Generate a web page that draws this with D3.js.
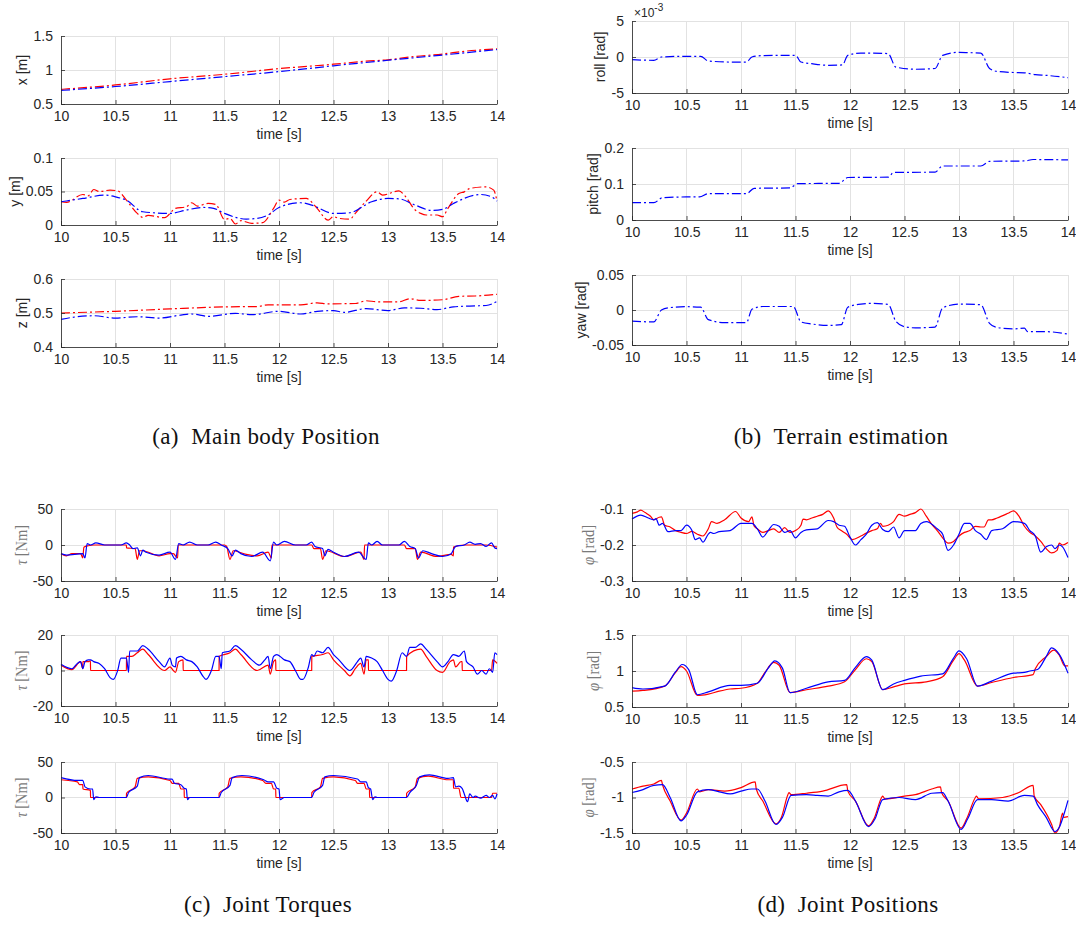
<!DOCTYPE html>
<html><head><meta charset="utf-8">
<script src="https://cdn.jsdelivr.net/npm/d3@7"></script>
<style>body{margin:0;background:#fff}</style>
</head><body><svg id="c" width="1076" height="938"></svg>
<script>
// ---------- DATA ----------
const timeTicks = [10,10.5,11,11.5,12,12.5,13,13.5,14];

// (a) main body position: red = reference, blue = actual
const posXRed = [[10,0.715],[10.5,0.78],[11,0.87],[11.5,0.937],[12,1.02],[12.5,1.085],[12.8,1.13],[13,1.15],[13.25,1.2],[13.5,1.235],[13.7,1.275],[14,1.31]];
const posXBlue = [[10,0.70],[10.5,0.757],[11,0.83],[11.5,0.903],[12,0.976],[12.5,1.062],[13,1.143],[13.5,1.22],[14,1.3]];

const posYRed = [[10,0.0347],[10.05,0.0337],[10.2,0.0455],[10.25,0.0436],[10.3,0.053],[10.35,0.05],[10.45,0.052],[10.52,0.051],[10.6,0.037],[10.7,0.0173],[10.75,0.0114],[10.8,0.0144],[10.95,0.0109],[11.05,0.0248],[11.15,0.0272],[11.2,0.0332],[11.25,0.0282],[11.35,0.0322],[11.42,0.0307],[11.5,0.0084],[11.55,0.0099],[11.6,0.0015],[11.65,0.0064],[11.75,0.0025],[11.85,0.0035],[11.95,0.0248],[12,0.0371],[12.05,0.0342],[12.1,0.0381],[12.25,0.0396],[12.35,0.0248],[12.45,0.0074],[12.5,0.0124],[12.55,0.0099],[12.65,0.0089],[12.7,0.0173],[12.8,0.0356],[12.9,0.0495],[12.95,0.0446],[13.1,0.051],[13.15,0.0446],[13.25,0.0223],[13.3,0.0173],[13.35,0.0149],[13.45,0.0149],[13.5,0.0124],[13.55,0.0248],[13.65,0.047],[13.7,0.0495],[13.75,0.0545],[13.9,0.0569],[13.97,0.052],[14,0.0356]];
const posYBlue = [[10,0.0347],[10.2,0.0396],[10.4,0.0446],[10.5,0.0421],[10.6,0.037],[10.75,0.0198],[11,0.0173],[11.15,0.0223],[11.3,0.0262],[11.4,0.0248],[11.5,0.0173],[11.7,0.0089],[11.8,0.0099],[11.9,0.0149],[12,0.0262],[12.2,0.0332],[12.3,0.0297],[12.5,0.0173],[12.65,0.0183],[12.85,0.0347],[13,0.0396],[13.1,0.0391],[13.25,0.0297],[13.4,0.0218],[13.5,0.0233],[13.6,0.0322],[13.85,0.0455],[13.95,0.042],[14,0.0356]];

const posZRed = [[10,0.5],[10.5,0.505],[11,0.512],[11.5,0.518],[11.8,0.519],[11.9,0.524],[12.2,0.524],[12.35,0.53],[12.45,0.527],[12.7,0.528],[12.8,0.536],[12.9,0.533],[13.1,0.533],[13.2,0.542],[13.3,0.537],[13.5,0.539],[13.65,0.549],[13.8,0.55],[14,0.555]];
const posZBlue = [[10,0.481],[10.1,0.487],[10.3,0.492],[10.5,0.485],[10.7,0.489],[10.9,0.485],[11.1,0.494],[11.2,0.497],[11.35,0.49],[11.6,0.499],[11.75,0.495],[12,0.505],[12.2,0.497],[12.35,0.505],[12.5,0.507],[12.6,0.502],[12.8,0.513],[13,0.507],[13.15,0.515],[13.3,0.514],[13.45,0.51],[13.6,0.518],[13.8,0.521],[13.9,0.522],[14,0.534]];

// (b) terrain estimation (roll in units of 1e-3 rad)
const rollE3 = [[10,-0.37],[10.2,-0.46],[10.27,0],[10.5,0.1],[10.63,0.1],[10.7,-0.55],[10.9,-0.7],[11.05,-0.7],[11.1,0],[11.2,0.2],[11.5,0.23],[11.55,-0.7],[11.65,-0.93],[11.8,-1.15],[11.93,-1.1],[11.98,0.23],[12.1,0.55],[12.2,0.55],[12.35,0.46],[12.42,-1.4],[12.6,-1.7],[12.78,-1.6],[12.85,0.23],[13,0.65],[13.1,0.6],[13.2,0.55],[13.28,-1.6],[13.35,-2.0],[13.5,-2.15],[13.6,-2.2],[13.7,-2.45],[13.8,-2.55],[14,-2.87]];
const pitch = [[10,0.048],[10.2,0.048],[10.28,0.062],[10.5,0.064],[10.62,0.064],[10.7,0.073],[11.05,0.073],[11.12,0.088],[11.45,0.089],[11.52,0.101],[11.9,0.102],[11.98,0.118],[12.35,0.119],[12.4,0.132],[12.78,0.133],[12.85,0.15],[13.2,0.15],[13.28,0.163],[13.6,0.164],[13.68,0.168],[14,0.167]];
const yaw = [[10,-0.016],[10.2,-0.017],[10.27,0],[10.35,0.0035],[10.5,0.0047],[10.63,0.004],[10.7,-0.0137],[10.85,-0.018],[11.05,-0.018],[11.1,0.001],[11.2,0.005],[11.48,0.005],[11.55,-0.017],[11.65,-0.02],[11.8,-0.022],[11.92,-0.021],[11.98,0.004],[12.1,0.0085],[12.2,0.0094],[12.35,0.008],[12.42,-0.016],[12.5,-0.024],[12.6,-0.0255],[12.78,-0.0245],[12.85,0.003],[13,0.0085],[13.2,0.0075],[13.28,-0.019],[13.35,-0.025],[13.5,-0.027],[13.6,-0.026],[13.63,-0.031],[13.8,-0.031],[14,-0.0345]];

// (c) joint torques
const tau1Red = [[10,-12],[10.05,-15],[10.1,-12],[10.18,-12],[10.2,-18],[10.21,-3],[10.25,-1],[10.3,0],[10.6,0],[10.601,-4],[10.68,-5],[10.7,-20],[10.72,-8],[10.75,-8],[10.9,-15],[11,-12],[11.03,-12],[11.07,-18],[11.075,0],[11.5,0],[11.52,-2],[11.55,-20],[11.58,-8],[11.7,-13],[11.8,-15],[11.9,-10],[11.93,-18],[11.935,0],[12.3,0],[12.32,-5],[12.38,-5],[12.4,-20],[12.43,-8],[12.6,-16],[12.75,-10],[12.78,-20],[12.785,0],[13.15,0],[13.17,-5],[13.25,-5],[13.27,-20],[13.3,-10],[13.45,-16],[13.58,-13],[13.6,-15],[13.601,-3],[13.7,0],[13.9,0],[14,-3]];
const tau1Blue = [[10,-12],[10.05,-14],[10.2,-12],[10.22,-18],[10.24,2],[10.27,0],[10.32,3],[10.4,0],[10.55,0],[10.6,3],[10.63,0],[10.66,-5],[10.7,-4],[10.73,-15],[10.75,-7],[10.78,-10],[10.9,-14],[11,-10],[11.05,-20],[11.08,2],[11.12,0],[11.18,4],[11.25,0],[11.35,0],[11.42,4],[11.47,0],[11.53,-5],[11.57,-15],[11.6,-7],[11.65,-12],[11.75,-16],[11.85,-10],[11.92,-22],[11.95,4],[11.98,0],[12.05,5],[12.15,0],[12.25,0],[12.3,4],[12.33,-2],[12.4,-5],[12.42,-15],[12.45,-6],[12.5,-10],[12.6,-16],[12.73,-10],[12.8,-20],[12.82,3],[12.85,0],[12.9,5],[12.95,0],[13.1,0],[13.15,5],[13.2,-2],[13.25,-5],[13.28,-18],[13.32,-8],[13.4,-12],[13.5,-16],[13.58,-12],[13.62,-2],[13.7,0],[13.75,4],[13.8,1],[13.85,2],[13.9,-2],[13.95,3],[13.98,-4],[14,-5]];

const tau2Red = [[10,3],[10.1,0.5],[10.18,5],[10.2,1],[10.201,5],[10.25,5],[10.27,5.5],[10.271,0],[10.6,0],[10.601,8],[10.65,8],[10.7,10],[10.75,12],[10.8,9],[10.95,0],[11,2],[11.03,0],[11.05,-1],[11.08,5],[11.12,6],[11.121,0],[11.45,0],[11.451,8],[11.55,10],[11.6,12],[11.65,9],[11.8,0],[11.9,3],[11.92,-2],[11.95,5],[11.97,6],[11.971,0],[12.3,0],[12.301,8],[12.4,9],[12.45,10],[12.5,6],[12.6,0],[12.65,-3],[12.7,1],[12.75,4],[12.78,-2],[12.8,6],[12.82,6],[12.821,0],[13.17,0],[13.171,8],[13.3,12],[13.35,8],[13.45,0],[13.5,-1],[13.57,5],[13.6,6],[13.62,2],[13.67,5],[13.68,5],[13.681,0],[13.95,0],[13.96,6],[14,4]];
const tau2Blue = [[10,3.5],[10.1,1],[10.15,4],[10.18,5],[10.2,1],[10.22,5],[10.25,6],[10.27,6],[10.3,5],[10.35,4],[10.4,1],[10.45,-4],[10.48,-5],[10.52,0],[10.55,7],[10.6,7],[10.62,-1],[10.63,11],[10.7,11],[10.75,14],[10.8,12],[10.9,5],[10.95,2],[11,7],[11.02,3],[11.05,2],[11.06,7],[11.1,8],[11.15,6],[11.2,5],[11.25,2],[11.3,-3],[11.33,-5],[11.38,0],[11.42,8],[11.45,8],[11.47,1],[11.48,10],[11.55,11],[11.6,14],[11.65,12],[11.75,6],[11.82,3],[11.87,6],[11.9,8],[11.92,1],[11.95,8],[11.98,9],[12.05,6],[12.1,5],[12.15,0],[12.2,-5],[12.22,-5],[12.27,2],[12.3,9],[12.32,8],[12.35,11],[12.4,10],[12.45,13],[12.5,9],[12.55,6],[12.65,0],[12.72,5],[12.75,7],[12.78,2],[12.8,8],[12.85,7],[12.9,5],[12.95,0],[13,-5],[13.03,-6],[13.08,0],[13.13,10],[13.17,8],[13.2,13],[13.25,13],[13.3,15],[13.35,12],[13.45,5],[13.5,2],[13.55,5],[13.6,9],[13.65,8],[13.7,11],[13.72,5],[13.78,2],[13.82,-2],[13.86,0],[13.9,-2],[13.93,1],[13.96,-1],[13.98,10],[14,9]];

const tau3Red = [[10,25],[10.15,22],[10.17,18],[10.2,18],[10.201,12],[10.27,10],[10.271,0],[10.6,0],[10.601,6],[10.68,15],[10.7,27],[10.8,29],[11,24],[11.02,20],[11.08,20],[11.1,12],[11.13,12],[11.131,0],[11.45,0],[11.451,6],[11.53,15],[11.55,27],[11.65,29],[11.85,24],[11.88,20],[11.93,20],[11.95,12],[11.97,12],[11.971,0],[12.3,0],[12.301,7],[12.38,15],[12.4,27],[12.5,29],[12.7,24],[12.72,20],[12.78,20],[12.8,12],[12.83,12],[12.831,0],[13.17,0],[13.171,6],[13.25,15],[13.27,27],[13.37,30],[13.55,25],[13.6,25],[13.601,13],[13.65,13],[13.67,0],[13.95,0],[13.96,6],[14,6]];
const tau3Blue = [[10,28],[10.15,24],[10.2,24],[10.22,15],[10.27,12],[10.29,12],[10.3,-3],[10.32,1],[10.35,0],[10.6,0],[10.62,7],[10.7,16],[10.72,28],[10.8,31],[11,26],[11.02,26],[11.04,20],[11.1,18],[11.13,13],[11.15,12],[11.16,-3],[11.18,0],[11.45,0],[11.47,7],[11.55,17],[11.57,28],[11.66,31],[11.86,25],[11.9,22],[11.95,22],[11.98,13],[12,12],[12.01,-3],[12.05,0],[12.3,0],[12.32,7],[12.4,17],[12.42,29],[12.5,31],[12.72,26],[12.75,22],[12.8,22],[12.82,14],[12.84,12],[12.86,-3],[12.88,1],[12.9,0],[13.17,0],[13.2,7],[13.26,17],[13.29,29],[13.38,32],[13.55,27],[13.6,28],[13.62,15],[13.65,16],[13.68,13],[13.7,5],[13.73,-6],[13.75,5],[13.78,0],[13.8,2],[13.85,-1],[13.9,3],[13.93,0],[13.96,3],[13.98,-2],[14,5]];

// (d) joint positions
const phi1Red = [[10,-0.112],[10.05,-0.108],[10.08,-0.103],[10.12,-0.11],[10.17,-0.12],[10.2,-0.13],[10.25,-0.123],[10.27,-0.122],[10.3,-0.145],[10.35,-0.15],[10.4,-0.16],[10.45,-0.165],[10.5,-0.168],[10.55,-0.162],[10.6,-0.17],[10.65,-0.175],[10.7,-0.155],[10.73,-0.135],[10.78,-0.14],[10.85,-0.13],[10.95,-0.107],[11,-0.125],[11.07,-0.135],[11.1,-0.122],[11.12,-0.147],[11.15,-0.155],[11.2,-0.165],[11.25,-0.16],[11.3,-0.155],[11.35,-0.165],[11.4,-0.152],[11.45,-0.165],[11.5,-0.16],[11.55,-0.145],[11.57,-0.128],[11.6,-0.13],[11.65,-0.125],[11.7,-0.12],[11.75,-0.115],[11.8,-0.105],[11.85,-0.125],[11.88,-0.15],[11.92,-0.16],[11.97,-0.17],[12.02,-0.185],[12.1,-0.175],[12.15,-0.167],[12.2,-0.16],[12.25,-0.155],[12.28,-0.14],[12.3,-0.148],[12.35,-0.145],[12.4,-0.135],[12.45,-0.115],[12.5,-0.12],[12.55,-0.115],[12.6,-0.11],[12.65,-0.1],[12.7,-0.12],[12.75,-0.143],[12.8,-0.16],[12.85,-0.18],[12.9,-0.195],[12.95,-0.19],[13,-0.175],[13.05,-0.165],[13.1,-0.16],[13.15,-0.148],[13.2,-0.15],[13.23,-0.15],[13.27,-0.13],[13.3,-0.13],[13.35,-0.125],[13.45,-0.112],[13.5,-0.105],[13.55,-0.12],[13.6,-0.148],[13.65,-0.165],[13.7,-0.175],[13.75,-0.19],[13.8,-0.21],[13.85,-0.222],[13.9,-0.215],[13.92,-0.195],[13.95,-0.2],[14,-0.193]];
const phi1Blue = [[10,-0.128],[10.08,-0.117],[10.15,-0.125],[10.2,-0.13],[10.22,-0.127],[10.25,-0.145],[10.28,-0.14],[10.33,-0.163],[10.4,-0.16],[10.45,-0.16],[10.5,-0.145],[10.55,-0.16],[10.58,-0.185],[10.62,-0.18],[10.65,-0.192],[10.7,-0.17],[10.72,-0.165],[10.75,-0.168],[10.8,-0.163],[10.9,-0.16],[11,-0.14],[11.1,-0.14],[11.15,-0.155],[11.2,-0.178],[11.25,-0.16],[11.3,-0.143],[11.35,-0.148],[11.4,-0.165],[11.45,-0.16],[11.5,-0.18],[11.55,-0.165],[11.6,-0.158],[11.7,-0.155],[11.8,-0.132],[11.85,-0.135],[11.9,-0.145],[11.95,-0.148],[12,-0.178],[12.05,-0.2],[12.1,-0.185],[12.15,-0.17],[12.2,-0.145],[12.25,-0.138],[12.3,-0.157],[12.35,-0.163],[12.4,-0.15],[12.45,-0.18],[12.5,-0.16],[12.6,-0.16],[12.65,-0.14],[12.7,-0.135],[12.8,-0.155],[12.85,-0.17],[12.9,-0.215],[12.95,-0.2],[13,-0.17],[13.05,-0.14],[13.1,-0.14],[13.15,-0.16],[13.2,-0.17],[13.25,-0.185],[13.3,-0.16],[13.4,-0.155],[13.5,-0.135],[13.6,-0.14],[13.65,-0.16],[13.7,-0.175],[13.75,-0.22],[13.8,-0.205],[13.85,-0.2],[13.88,-0.21],[13.92,-0.2],[13.95,-0.205],[14,-0.235]];

const phi2Red = [[10,0.72],[10.1,0.73],[10.3,0.79],[10.4,0.98],[10.45,1.06],[10.5,1.0],[10.6,0.66],[10.7,0.68],[10.8,0.72],[10.9,0.75],[11,0.76],[11.15,0.83],[11.22,0.98],[11.3,1.12],[11.35,1.08],[11.45,0.7],[11.6,0.74],[11.8,0.79],[11.95,0.85],[12.05,1.02],[12.15,1.17],[12.2,1.13],[12.3,0.74],[12.4,0.78],[12.5,0.82],[12.7,0.85],[12.85,0.92],[12.95,1.15],[13,1.24],[13.05,1.15],[13.17,0.79],[13.3,0.84],[13.5,0.91],[13.68,0.95],[13.7,1.03],[13.8,1.2],[13.87,1.29],[13.92,1.22],[13.97,1.07],[14,1.07]];
const phi2Blue = [[10,0.77],[10.1,0.75],[10.3,0.79],[10.4,0.99],[10.46,1.09],[10.52,1.02],[10.6,0.67],[10.7,0.71],[10.9,0.8],[11,0.8],[11.15,0.83],[11.25,1.04],[11.31,1.14],[11.38,1.04],[11.45,0.7],[11.6,0.76],[11.8,0.85],[11.95,0.87],[12.05,1.05],[12.15,1.2],[12.2,1.15],[12.3,0.74],[12.4,0.82],[12.5,0.87],[12.65,0.93],[12.85,0.96],[12.95,1.18],[13,1.28],[13.07,1.17],[13.17,0.79],[13.3,0.86],[13.5,0.97],[13.6,0.98],[13.65,1.0],[13.72,1.02],[13.8,1.2],[13.85,1.32],[13.92,1.23],[14,0.97]];

const phi3Red = [[10,-0.88],[10.1,-0.84],[10.2,-0.81],[10.27,-0.76],[10.28,-0.82],[10.35,-1.05],[10.45,-1.32],[10.5,-1.22],[10.6,-0.88],[10.62,-0.92],[10.7,-0.89],[10.85,-0.91],[11,-0.86],[11.13,-0.78],[11.14,-0.88],[11.2,-1.05],[11.32,-1.37],[11.37,-1.28],[11.43,-0.96],[11.44,-0.93],[11.46,-0.96],[11.6,-0.94],[11.75,-0.91],[11.97,-0.82],[11.98,-0.91],[12.05,-1.05],[12.17,-1.4],[12.22,-1.3],[12.29,-1.0],[12.3,-0.98],[12.32,-1.02],[12.5,-0.98],[12.6,-0.96],[12.75,-0.88],[12.83,-0.85],[12.84,-0.93],[12.9,-1.05],[13.02,-1.43],[13.07,-1.3],[13.15,-1.0],[13.16,-0.98],[13.18,-1.02],[13.4,-1.0],[13.55,-0.93],[13.68,-0.83],[13.69,-0.98],[13.75,-1.1],[13.85,-1.38],[13.88,-1.5],[13.92,-1.42],[13.95,-1.22],[13.96,-1.28],[14,-1.27]];
const phi3Blue = [[10,-0.93],[10.08,-0.9],[10.2,-0.83],[10.28,-0.82],[10.35,-1.0],[10.45,-1.33],[10.5,-1.25],[10.6,-0.92],[10.7,-0.89],[10.8,-0.92],[10.9,-0.95],[11,-0.91],[11.1,-0.88],[11.15,-0.88],[11.22,-1.05],[11.32,-1.38],[11.38,-1.28],[11.46,-0.97],[11.6,-0.96],[11.7,-0.97],[11.8,-0.98],[11.9,-0.92],[11.98,-0.9],[12.05,-1.05],[12.17,-1.41],[12.23,-1.3],[12.3,-1.03],[12.45,-1.0],[12.6,-1.03],[12.75,-0.94],[12.85,-0.93],[12.9,-1.05],[13.02,-1.45],[13.08,-1.3],[13.17,-1.03],[13.3,-1.03],[13.45,-1.05],[13.6,-0.97],[13.68,-0.98],[13.72,-1.1],[13.8,-1.28],[13.88,-1.48],[13.92,-1.42],[13.97,-1.2],[14,-1.04]];

const captions = ["(a)  Main body Position","(b)  Terrain estimation","(c)  Joint Torques","(d)  Joint Positions"];

// ---------- DRAWING ----------
const svg = d3.select('#c');
const SANS = '"Liberation Sans", Arial, Helvetica, sans-serif';
const SERIF = '"Liberation Serif", "Times New Roman", serif';
const AX = '#262626', GRID = '#e2e2e2', RED = '#ff0000', BLUE = '#0000ff';
const fmt = d => String(d).replace('\u2212','-');

function panel(c){
  const x = d3.scaleLinear().domain([10,14]).range([c.x0,c.x1]);
  const y = d3.scaleLinear().domain(c.domain).range([c.y1,c.y0]);
  const g = svg.append('g');
  g.selectAll('line.gx').data(timeTicks).join('line').attr('class','gx')
    .attr('x1',d=>x(d)).attr('x2',d=>x(d)).attr('y1',c.y0).attr('y2',c.y1)
    .attr('stroke',GRID).attr('stroke-width',1).attr('shape-rendering','crispEdges');
  g.selectAll('line.gy').data(c.ticks).join('line').attr('class','gy')
    .attr('x1',c.x0).attr('x2',c.x1).attr('y1',d=>y(d)).attr('y2',d=>y(d))
    .attr('stroke',GRID).attr('stroke-width',1).attr('shape-rendering','crispEdges');
  const line = d3.line().x(d=>x(d[0])).y(d=>y(d[1])).curve(d3.curveMonotoneX);
  c.series.forEach(s=>{
    g.append('path').datum(s.data).attr('d',line).attr('fill','none')
      .attr('stroke',s.color).attr('stroke-width',1.2)
      .attr('stroke-linejoin','round')
      .attr('stroke-dasharray', c.dash ? '9,3,2,3' : null);
  });
  const xa = g.append('g').attr('transform',`translate(0,${c.y1})`)
    .call(d3.axisBottom(x).tickValues(timeTicks).tickFormat(fmt).tickSizeInner(-4).tickSizeOuter(0).tickPadding(7));
  const ya = g.append('g').attr('transform',`translate(${c.x0},0)`)
    .call(d3.axisLeft(y).tickValues(c.ticks).tickFormat(c.tickFmt || fmt).tickSizeInner(-4).tickSizeOuter(0).tickPadding(8));
  [xa,ya].forEach(a=>{
    a.selectAll('path,line').attr('stroke',AX).attr('stroke-width',0.8);
    a.selectAll('text').attr('fill',AX).style('font-family',SANS).style('font-size','14px');
  });
  // x label
  g.append('text').attr('x',(c.x0+c.x1)/2).attr('y',c.y1+30).attr('dy','0.35em')
    .attr('text-anchor','middle').attr('fill',AX).style('font-family',SANS).style('font-size','14px')
    .text('time [s]');
  // y label position from tick label widths
  let maxW = 0;
  ya.selectAll('text').each(function(){ maxW = Math.max(maxW, this.getComputedTextLength()); });
  const lx = c.x0 - 8 - maxW - 11, ly = (c.y0+c.y1)/2;
  const yl = g.append('text').attr('transform',`translate(${lx},${ly}) rotate(-90)`)
    .attr('text-anchor','middle').attr('dy','0.35em');
  if (c.latex){
    yl.attr('fill','#7a7a7a').style('font-family',SERIF).style('font-size','16px')
      .attr('textLength',40).attr('lengthAdjust','spacingAndGlyphs');
    yl.append('tspan').style('font-style','italic').text(c.sym);
    yl.append('tspan').text(' [' + c.unit + ']');
  } else {
    yl.attr('fill',AX).style('font-family',SANS).style('font-size','14px').text(c.ylabel);
  }
  if (c.exponent){
    const t = g.append('text').attr('x',c.x0+2).attr('y',c.y0-4).attr('fill',AX)
      .style('font-family',SANS).style('font-size','12px');
    t.append('tspan').text('\u00d710');
    t.append('tspan').attr('dy','-6').style('font-size','10px').text(c.exponent);
  }
}

const L = {x0:61, x1:497}, R = {x0:632, x1:1068};
panel({...L, y0:36, y1:104, domain:[0.5,1.5], ticks:[0.5,1,1.5], dash:true, ylabel:'x [m]',
  series:[{data:posXRed,color:RED},{data:posXBlue,color:BLUE}]});
panel({...L, y0:158, y1:225, domain:[0,0.1], ticks:[0,0.05,0.1], dash:true, ylabel:'y [m]',
  series:[{data:posYRed,color:RED},{data:posYBlue,color:BLUE}]});
panel({...L, y0:279, y1:347, domain:[0.4,0.6], ticks:[0.4,0.5,0.6], dash:true, ylabel:'z [m]',
  series:[{data:posZRed,color:RED},{data:posZBlue,color:BLUE}]});

panel({...R, y0:21, y1:93, domain:[-5,5], ticks:[-5,0,5], dash:true, ylabel:'roll [rad]', exponent:'-3',
  series:[{data:rollE3,color:BLUE}]});
panel({...R, y0:148, y1:220, domain:[0,0.2], ticks:[0,0.1,0.2], dash:true, ylabel:'pitch [rad]',
  series:[{data:pitch,color:BLUE}]});
panel({...R, y0:275, y1:345, domain:[-0.05,0.05], ticks:[-0.05,0,0.05], dash:true, ylabel:'yaw [rad]',
  series:[{data:yaw,color:BLUE}]});

panel({...L, y0:509, y1:581, domain:[-50,50], ticks:[-50,0,50], latex:true, sym:'\u03c4', unit:'Nm',
  series:[{data:tau1Red,color:RED},{data:tau1Blue,color:BLUE}]});
panel({...L, y0:635, y1:706, domain:[-20,20], ticks:[-20,0,20], latex:true, sym:'\u03c4', unit:'Nm',
  series:[{data:tau2Red,color:RED},{data:tau2Blue,color:BLUE}]});
panel({...L, y0:762, y1:833, domain:[-50,50], ticks:[-50,0,50], latex:true, sym:'\u03c4', unit:'Nm',
  series:[{data:tau3Red,color:RED},{data:tau3Blue,color:BLUE}]});

panel({...R, y0:509, y1:581, domain:[-0.3,-0.1], ticks:[-0.3,-0.2,-0.1], latex:true, sym:'\u03c6', unit:'rad',
  series:[{data:phi1Red,color:RED},{data:phi1Blue,color:BLUE}]});
panel({...R, y0:635, y1:707, domain:[0.5,1.5], ticks:[0.5,1,1.5], latex:true, sym:'\u03c6', unit:'rad',
  series:[{data:phi2Red,color:RED},{data:phi2Blue,color:BLUE}]});
panel({...R, y0:762, y1:833, domain:[-1.5,-0.5], ticks:[-1.5,-1,-0.5], latex:true, sym:'\u03c6', unit:'rad',
  series:[{data:phi3Red,color:RED},{data:phi3Blue,color:BLUE}]});

// captions
const capPos = [[266,436],[841,436],[268,904],[848,904]];
svg.selectAll('text.cap').data(captions).join('text').attr('class','cap')
  .attr('x',(d,i)=>capPos[i][0]).attr('y',(d,i)=>capPos[i][1]).attr('dy','0.35em')
  .attr('text-anchor','middle').attr('fill','#111')
  .style('font-family',SERIF).style('font-size','23px').style('letter-spacing','0.4px').style('white-space','pre')
  .text(d=>d);
</script>
</body></html>
